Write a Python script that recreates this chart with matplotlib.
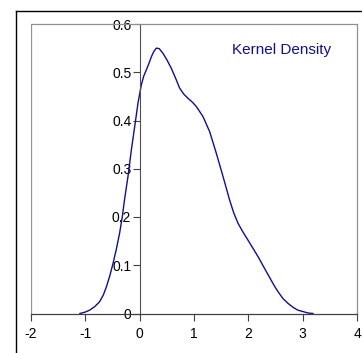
import matplotlib
matplotlib.use('Agg')
import matplotlib.pyplot as plt
from matplotlib.lines import Line2D

plt.rcParams['font.family'] = ['Liberation Sans', 'DejaVu Sans']

# kernel density curve
x_vals = [-1.10, -1.00, -0.92, -0.83, -0.74, -0.67, -0.61, -0.55, -0.49, -0.43,
          -0.37, -0.32, -0.28, -0.215, -0.153, -0.092, -0.031, 0.031, 0.075, 0.123,
          0.17, 0.215, 0.26, 0.307, 0.36, 0.43, 0.50, 0.583, 0.66, 0.736,
          0.81, 0.889, 0.97, 1.043, 1.166, 1.288, 1.411, 1.534, 1.656, 1.73,
          1.81, 1.90, 1.994, 2.178, 2.33, 2.485, 2.56, 2.638, 2.73, 2.82,
          2.91, 3.006, 3.10, 3.19]
y_vals = [0.0, 0.003, 0.007, 0.014, 0.024, 0.038, 0.056, 0.078, 0.104, 0.133,
          0.166, 0.200, 0.235, 0.284, 0.339, 0.387, 0.436, 0.474, 0.492, 0.505,
          0.518, 0.532, 0.543, 0.550, 0.549, 0.539, 0.526, 0.508, 0.488, 0.467,
          0.455, 0.446, 0.438, 0.429, 0.408, 0.377, 0.332, 0.284, 0.235, 0.209,
          0.187, 0.169, 0.152, 0.118, 0.087, 0.056, 0.043, 0.031, 0.021, 0.013,
          0.007, 0.004, 0.001, 0.0]

x_ticks = [-2, -1, 0, 1, 2, 3, 4]
x_labels = ['-2', '-1', '0', '1', '2', '3', '4']
y_ticks = [0, 0.1, 0.2, 0.3, 0.4, 0.5, 0.6]
y_labels = ['0', '0.1', '0.2', '0.3', '0.4', '0.5', '0.6']

W, H = 362, 353
fig = plt.figure(figsize=(W / 100, H / 100), dpi=100)
fig.patch.set_facecolor('white')

# outer black frame (runs off the right and bottom of the picture)
fig.add_artist(Line2D([16 / W, 16 / W], [0, 1 - 10.5 / H], color='black', lw=1.0))
fig.add_artist(Line2D([16 / W, 1], [1 - 10.5 / H, 1 - 10.5 / H], color='black', lw=1.0))

ax = fig.add_axes([31 / W, (H - 313.5) / H, (357 - 31) / W, (313.5 - 24) / H])
ax.set_xlim(-2, 4)
ax.set_ylim(0, 0.6)

ax.plot(x_vals, y_vals, color='#10108a', linewidth=1.0)

# axes: y axis crossing at x=0, grey plot-area border
ax.spines['left'].set_position(('data', 0))
ax.spines['left'].set_color('#505050')
ax.spines['left'].set_linewidth(0.8)
ax.spines['bottom'].set_color('#404040')
ax.spines['bottom'].set_linewidth(0.9)
for s in ['top', 'right']:
    ax.spines[s].set_color('#909090')
    ax.spines[s].set_linewidth(0.9)
ax.axvline(-2, color='#909090', linewidth=0.9)

ax.set_xticks(x_ticks)
ax.set_xticklabels(x_labels)
ax.set_yticks(y_ticks)
ax.set_yticklabels(y_labels)
ax.tick_params(axis='x', direction='out', length=5, width=0.8, color='#404040',
               labelsize=10, pad=5)
ax.tick_params(axis='y', direction='out', length=5, width=0.8, color='#404040',
               labelsize=10, pad=1)

ax.text(0.77, 0.91, 'Kernel Density', transform=ax.transAxes, ha='center', va='center',
        fontsize=11, color='#10108a')

fig.savefig('out.png', dpi=100)
